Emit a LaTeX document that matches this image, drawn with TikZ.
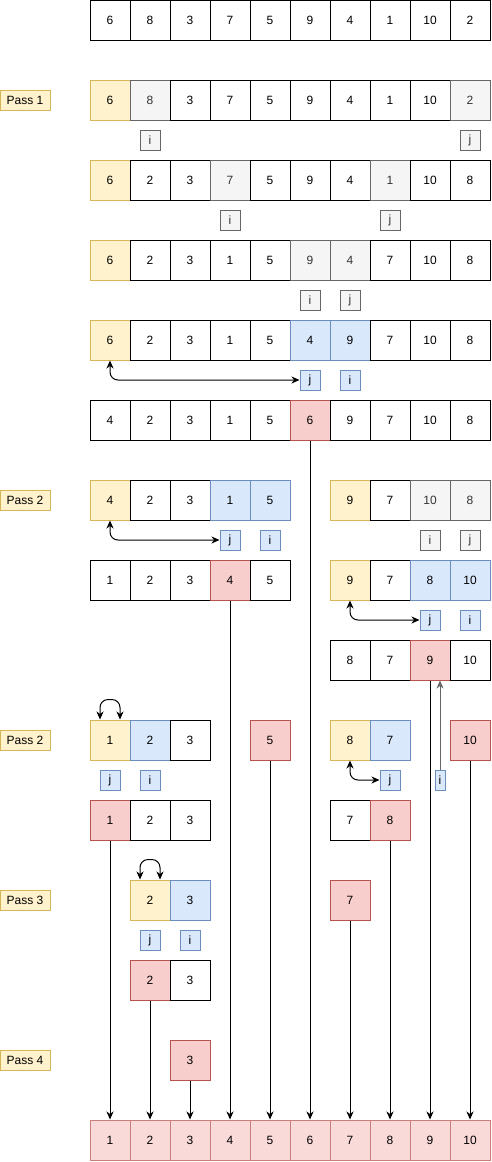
\documentclass[tikz,border=0pt]{standalone}
\usepackage{fontspec}
\setmainfont{Liberation Sans}
\usetikzlibrary{arrows.meta}

\definecolor{pivotfill}{HTML}{FFF2CC}
\definecolor{pivotline}{HTML}{D6B656}
\definecolor{cmpfill}{HTML}{DAE8FC}
\definecolor{cmpline}{HTML}{6C8EBF}
\definecolor{donefill}{HTML}{F8CECC}
\definecolor{doneline}{HTML}{B85450}
\definecolor{scanfill}{HTML}{F5F5F5}
\definecolor{scanline}{HTML}{666666}
\definecolor{scantext}{HTML}{333333}

\tikzset{
  cell/.style={draw, line width=1pt, minimum size=40pt, inner sep=0pt, font=\fontsize{12}{14}\selectfont},
  pivot/.style={cell, draw=pivotline, fill=pivotfill},
  cmp/.style={cell, draw=cmpline, fill=cmpfill},
  done/.style={cell, draw=doneline, fill=donefill},
  scan/.style={cell, draw=scanline, fill=scanfill, text=scantext},
  sorted/.style={cell, draw=doneline!75, fill=donefill!75},
  ptr/.style={draw=scanline, fill=scanfill, text=scantext, line width=1pt, minimum size=20pt, inner sep=0pt, font=\fontsize{12}{14}\selectfont},
  ptrb/.style={ptr, draw=cmpline, fill=cmpfill, text=black},
  pass/.style={draw=pivotline, fill=pivotfill, line width=1pt, minimum width=50pt, minimum height=20pt, inner sep=0pt, font=\fontsize{12}{14}\selectfont},
  link/.style={line width=1pt, -{Stealth[length=8pt,width=7pt,inset=2.5pt]}},
  swapline/.style={line width=1pt, {Stealth[length=8pt,width=7pt,inset=2.5pt]}-{Stealth[length=8pt,width=7pt,inset=2.5pt]}, rounded corners=8pt},
}

\begin{document}
\begin{tikzpicture}[x=1pt, y=-1pt]

  \useasboundingbox (0,0) rectangle (491,1162);

  % pass labels
  \node[pass] (pass1) at (25,100) {Pass 1};
  \node[pass] (pass2) at (25,500) {Pass 2};
  \node[pass] (pass2b) at (25,740) {Pass 2};
  \node[pass] (pass3) at (25,900) {Pass 3};
  \node[pass] (pass4) at (25,1060) {Pass 4};

  % input array
  \foreach \v [count=\k from 0] in {6,8,3,7,5,9,4,1,10,2}
    \node[cell] (r0c\k) at ({110+40*\k},20) {\v};

  % pass 1
  \foreach \v/\s [count=\k from 0] in {6/pivot,8/scan,3/cell,7/cell,5/cell,9/cell,4/cell,1/cell,10/cell,2/scan}
    \node[\s] (r1c\k) at ({110+40*\k},100) {\v};
  \node[ptr] (p1i) at (150,140) {i};
  \node[ptr] (p1j) at (470,140) {j};

  \foreach \v/\s [count=\k from 0] in {6/pivot,2/cell,3/cell,7/scan,5/cell,9/cell,4/cell,1/scan,10/cell,8/cell}
    \node[\s] (r2c\k) at ({110+40*\k},180) {\v};
  \node[ptr] (p2i) at (230,220) {i};
  \node[ptr] (p2j) at (390,220) {j};

  \foreach \v/\s [count=\k from 0] in {6/pivot,2/cell,3/cell,1/cell,5/cell,9/scan,4/scan,7/cell,10/cell,8/cell}
    \node[\s] (r3c\k) at ({110+40*\k},260) {\v};
  \node[ptr] (p3i) at (310,300) {i};
  \node[ptr] (p3j) at (350,300) {j};

  \foreach \v/\s [count=\k from 0] in {6/pivot,2/cell,3/cell,1/cell,5/cell,4/cmp,9/cmp,7/cell,10/cell,8/cell}
    \node[\s] (r4c\k) at ({110+40*\k},340) {\v};
  \node[ptrb] (p4j) at (310,380) {j};
  \node[ptrb] (p4i) at (350,380) {i};
  \draw[swapline] (r4c0.south) |- (p4j.west);

  \foreach \v/\s [count=\k from 0] in {4/cell,2/cell,3/cell,1/cell,5/cell,6/done,9/cell,7/cell,10/cell,8/cell}
    \node[\s] (r5c\k) at ({110+40*\k},420) {\v};

  % pass 2
  \foreach \v/\s [count=\k from 0] in {4/pivot,2/cell,3/cell,1/cmp,5/cmp}
    \node[\s] (r6c\k) at ({110+40*\k},500) {\v};
  \foreach \v/\s [count=\k from 6] in {9/pivot,7/cell,10/scan,8/scan}
    \node[\s] (r6c\k) at ({110+40*\k},500) {\v};
  \node[ptrb] (p6j) at (230,540) {j};
  \node[ptrb] (p6i) at (270,540) {i};
  \node[ptr] (p6ri) at (430,540) {i};
  \node[ptr] (p6rj) at (470,540) {j};
  \draw[swapline] (r6c0.south) |- (p6j.west);

  \foreach \v/\s [count=\k from 0] in {1/cell,2/cell,3/cell,4/done,5/cell}
    \node[\s] (r7c\k) at ({110+40*\k},580) {\v};
  \foreach \v/\s [count=\k from 6] in {9/pivot,7/cell,8/cmp,10/cmp}
    \node[\s] (r7c\k) at ({110+40*\k},580) {\v};
  \node[ptrb] (p7j) at (430,620) {j};
  \node[ptrb] (p7i) at (470,620) {i};
  \draw[swapline] (r7c6.south) |- (p7j.west);

  \foreach \v/\s [count=\k from 6] in {8/cell,7/cell,9/done,10/cell}
    \node[\s] (r8c\k) at ({110+40*\k},660) {\v};

  % second pass 2
  \node[pivot] (r9c0) at (110,740) {1};
  \node[cmp] (r9c1) at (150,740) {2};
  \node[cell] (r9c2) at (190,740) {3};
  \node[done] (r9c4) at (270,740) {5};
  \node[pivot] (r9c6) at (350,740) {8};
  \node[cmp] (r9c7) at (390,740) {7};
  \node[done] (r9c9) at (470,740) {10};
  \draw[swapline] ([xshift=-10pt]r9c0.north) -- ++(0,-20) -- ++(20,0) -- ([xshift=10pt]r9c0.north);
  \node[ptrb] (p9j) at (110,780) {j};
  \node[ptrb] (p9i) at (150,780) {i};
  \node[ptrb] (p9rj) at (390,780) {j};
  \node[ptrb, minimum width=10pt] (p9ri) at (440,780) {i};
  \draw[swapline] (r9c6.south) |- (p9rj.west);
  \draw[link, draw=scanline] (p9ri.north) -- (p9ri.north |- r8c8.south);

  \node[done] (r10c0) at (110,820) {1};
  \node[cell] (r10c1) at (150,820) {2};
  \node[cell] (r10c2) at (190,820) {3};
  \node[cell] (r10c6) at (350,820) {7};
  \node[done] (r10c7) at (390,820) {8};

  % pass 3
  \node[pivot] (r11c1) at (150,900) {2};
  \node[cmp] (r11c2) at (190,900) {3};
  \node[done] (r11c6) at (350,900) {7};
  \draw[swapline] ([xshift=-10pt]r11c1.north) -- ++(0,-20) -- ++(20,0) -- ([xshift=10pt]r11c1.north);
  \node[ptrb] (p11j) at (150,940) {j};
  \node[ptrb] (p11i) at (190,940) {i};

  \node[done] (r12c1) at (150,980) {2};
  \node[cell] (r12c2) at (190,980) {3};

  % pass 4
  \node[done] (r13c2) at (190,1060) {3};

  % sorted array
  \foreach \v [count=\k from 0] in {1,2,3,4,5,6,7,8,9,10}
    \node[sorted] (f\k) at ({110+40*\k},1140) {\v};

  \foreach \a/\b in {r5c5/5, r7c3/3, r8c8/8, r9c4/4, r9c9/9, r10c0/0, r10c7/7, r11c6/6, r12c1/1, r13c2/2}
    \draw[link] (\a) -- (f\b);

\end{tikzpicture}
\end{document}
